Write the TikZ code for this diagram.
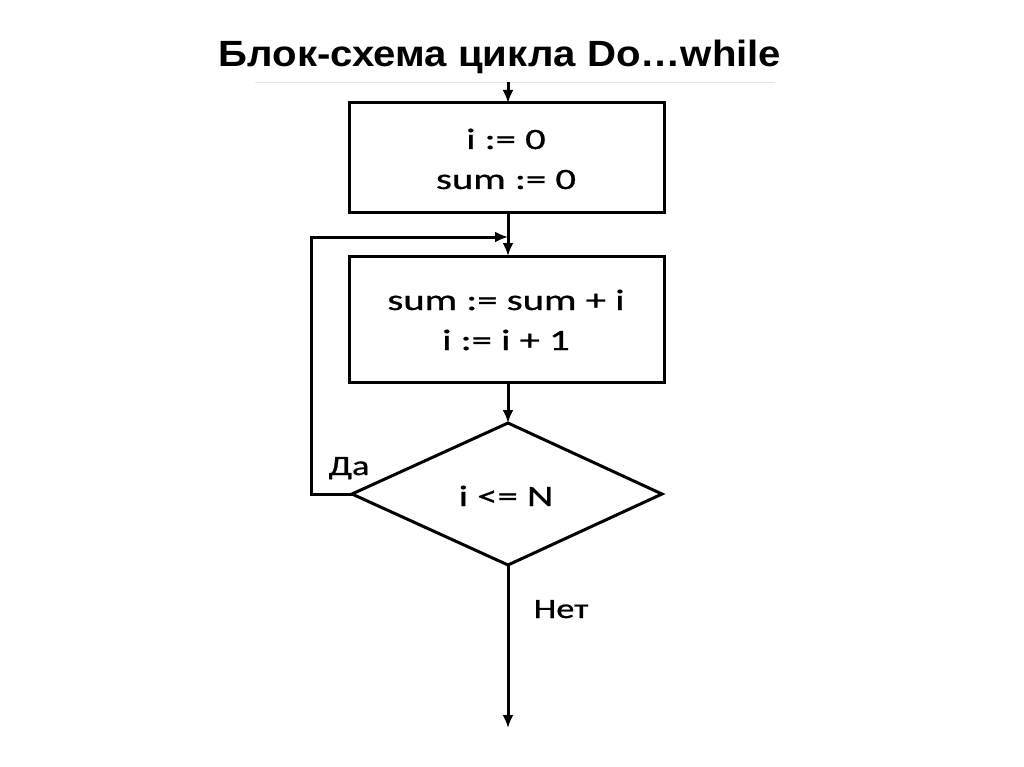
\documentclass[tikz,border=0pt]{standalone}
\usepackage{fontspec}
\setmainfont{Carlito}
\newfontfamily\boxfont[FakeStretch=1.38,FakeBold=0.8]{Carlito}
\newfontfamily\lblfont[FakeStretch=1.3,FakeBold=0.8]{Carlito}
\newfontfamily\titlefont[FakeStretch=1.1]{Liberation Sans}
\usetikzlibrary{arrows.meta}
\begin{document}
\begin{tikzpicture}[x=1pt,y=-1pt,
  line/.style={line width=3pt},
  arr/.style={line, -{Latex[length=13pt,width=11pt]}},
  txt/.style={font=\boxfont\fontsize{29.5}{34}\selectfont, anchor=base, inner sep=0pt},
  lbl/.style={font=\lblfont\fontsize{28}{32}\selectfont, anchor=base, inner sep=0pt}]
\useasboundingbox (0,0) rectangle (1024,767);
\node[font=\titlefont\bfseries\fontsize{36.5}{40}\selectfont, anchor=base, inner sep=0pt] (title) at (500,67) {Блок-схема цикла Do…while};
\draw[gray!20, line width=1pt] (255,83) -- (775,83);
\coordinate (start) at (508,82);
\coordinate (b1t) at (508,103);
\draw[line] (349,103) rectangle (664,213);
\coordinate (b1b) at (508,213);
\node[txt] (t1) at (506,149) {i := 0};
\node[txt] (t2) at (506,189) {sum := 0};
\coordinate (b2t) at (508,256);
\draw[line] (349,256) rectangle (664,382);
\coordinate (b2b) at (508,382);
\node[txt] (t3) at (506,310) {sum := sum + i};
\node[txt] (t4) at (506,350) {i := i + 1};
\coordinate (dt) at (508,423);
\coordinate (dl) at (352,494);
\coordinate (dr) at (662,494);
\coordinate (db) at (508,565);
\draw[line, line join=miter] (dt) -- (dr) -- (db) -- (dl) -- cycle;
\node[txt] (cond) at (506,506) {i <= N};
\coordinate (join) at (508,237);
\coordinate (end) at (508,728);
\draw[arr] (start) -- (b1t);
\draw[arr] (b1b) -- (b2t);
\draw[arr] (b2b) -- (dt);
\draw[arr] (dl) -- (311,494) -- (311,237) -- (join);
\draw[arr] (db) -- (end);
\node[lbl] (yes) at (349,475) {Да};
\node[lbl] (no) at (561,618) {Нет};
\end{tikzpicture}
\end{document}
